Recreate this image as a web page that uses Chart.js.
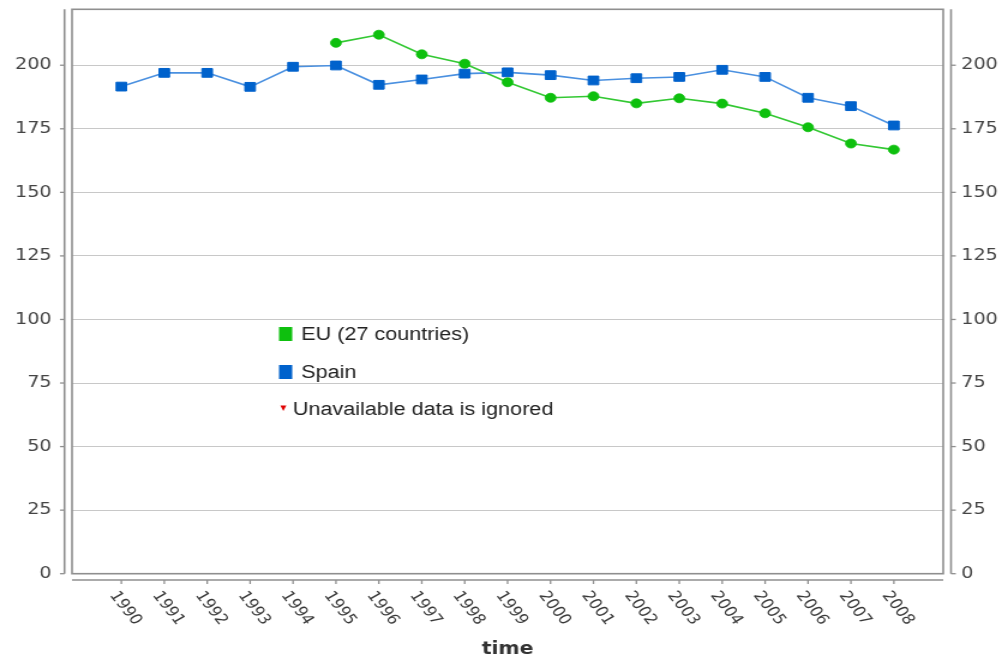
<!DOCTYPE html>
<html>
<head>
<meta charset="utf-8">
<script src="https://cdn.jsdelivr.net/npm/chart.js@4/dist/chart.umd.min.js"></script>
<style>
html,body{margin:0;padding:0;background:#fff;overflow:hidden;}
#wrap{width:835px;height:656px;transform:scaleX(1.2);transform-origin:0 0;}
canvas{display:block;}
</style>
</head>
<body>
<div id="wrap"><canvas id="c" width="835" height="656"></canvas></div>
<script>
const years = [1990,1991,1992,1993,1994,1995,1996,1997,1998,1999,2000,2001,2002,2003,2004,2005,2006,2007,2008];
const xTickLabels = years.map(String);
const euValues = [null,null,null,null,null,208.8,212.0,204.3,200.6,193.3,187.2,187.8,185.0,187.0,184.9,181.1,175.6,169.2,166.8];
const spainValues = [191.6,197.0,197.0,191.5,199.4,199.9,192.3,194.4,196.7,197.2,196.1,194.0,194.9,195.4,198.2,195.4,187.2,183.9,176.3];
const yTicks = [0,25,50,75,100,125,150,175,200];
const seriesNames = ['EU (27 countries)','Spain'];
const noteText = 'Unavailable data is ignored';
const axisTitle = 'time';

const GREEN_LINE = '#33c833', GREEN_PT = '#0ec00e';
const BLUE_LINE = '#4a90e0', BLUE_PT = '#0062cc';
const AXIS_GREY = '#8f8f8f';

const decor = {
  id: 'decor',
  afterDraw(chart) {
    const ctx = chart.ctx, ca = chart.chartArea;
    const xs = chart.scales.x, ys = chart.scales.y;
    ctx.save();
    ctx.strokeStyle = AXIS_GREY;
    ctx.lineWidth = 1.6;
    const line = (x1,y1,x2,y2) => { ctx.beginPath(); ctx.moveTo(x1,y1); ctx.lineTo(x2,y2); ctx.stroke(); };
    ctx.strokeRect(ca.left, ca.top, ca.right - ca.left, ca.bottom - ca.top);
    const lx = ca.left - 6.25;
    line(lx, ca.top, lx, ca.bottom);
    const rx = ca.right + 6.5;
    line(rx, ca.top, rx, ca.bottom);
    ctx.lineWidth = 1.3;
    yTicks.forEach(v => {
      const y = ys.getPixelForValue(v);
      line(lx - 3.8, y, lx, y);
      line(rx, y, rx + 4, y);
    });
    const by = ca.bottom + 6.3;
    ctx.lineWidth = 1.6;
    line(ca.left, by, ca.right, by);
    ctx.lineWidth = 1.3;
    years.forEach(v => { const px = xs.getPixelForValue(v); line(px, by, px, by + 4); });
    ctx.fillStyle = '#383838';
    ctx.font = '14.5px "DejaVu Sans"';
    ctx.textAlign = 'left';
    ctx.textBaseline = 'middle';
    years.forEach((v, i) => {
      const px = xs.getPixelForValue(v);
      ctx.save();
      ctx.translate(px - 7, by + 13);
      ctx.rotate(56 * Math.PI / 180);
      ctx.fillText(xTickLabels[i], 0, 0);
      ctx.restore();
    });
    const rows = [334, 372];
    ctx.font = '18px "Liberation Sans", Arial, sans-serif';
    chart.data.datasets.forEach((ds, i) => {
      ctx.fillStyle = ds.pointBackgroundColor;
      ctx.fillRect(232.5, rows[i] - 7, 11, 14);
      ctx.fillStyle = '#222';
      ctx.fillText(ds.label, 251, rows[i] + 1);
    });
    ctx.fillStyle = '#e00000';
    ctx.beginPath();
    ctx.moveTo(233.6, 405.5); ctx.lineTo(238.6, 405.5); ctx.lineTo(236.1, 411); ctx.closePath(); ctx.fill();
    ctx.fillStyle = '#222';
    ctx.fillText(noteText, 244, 410);
    ctx.restore();
  }
};

const yFit = w => s => { s.width = w; s.paddingTop = 0; s.paddingBottom = 0; };

new Chart(document.getElementById('c'), {
  type: 'line',
  data: {
    datasets: [
      {
        label: seriesNames[0],
        data: years.map((x, i) => ({x: x, y: euValues[i]})),
        borderColor: GREEN_LINE,
        backgroundColor: GREEN_PT,
        pointBackgroundColor: GREEN_PT,
        pointBorderColor: GREEN_PT,
        pointStyle: 'circle',
        pointRadius: 4.5,
        pointBorderWidth: 0.8,
        borderWidth: 1.6,
        tension: 0,
        spanGaps: false,
        yAxisID: 'y'
      },
      {
        label: seriesNames[1],
        data: years.map((x, i) => ({x: x, y: spainValues[i]})),
        borderColor: BLUE_LINE,
        backgroundColor: BLUE_PT,
        pointBackgroundColor: BLUE_PT,
        pointBorderColor: BLUE_PT,
        pointStyle: 'rect',
        pointRadius: 6.2,
        pointBorderWidth: 1,
        borderWidth: 1.6,
        tension: 0,
        yAxisID: 'y'
      }
    ]
  },
  options: {
    responsive: false,
    devicePixelRatio: 1,
    animation: false,
    layout: {padding: {top: 9.3, left: 0, right: 0, bottom: 0}},
    plugins: {legend: {display: false}, tooltip: {enabled: false}},
    scales: {
      x: {
        type: 'linear',
        min: 1988.85,
        max: 2009.15,
        afterBuildTicks: s => { s.ticks = years.map(v => ({value: v})); },
        afterFit: s => { s.height = 82.3; s.paddingLeft = 0; s.paddingRight = 0; },
        ticks: {display: false},
        grid: {display: false},
        border: {display: false},
        title: {display: true, text: axisTitle, color: '#333', font: {family: 'DejaVu Sans', size: 17, weight: 'bold'}, padding: {top: 0, bottom: -4}}
      },
      y: {
        position: 'left',
        min: 0,
        max: 222,
        afterBuildTicks: s => { s.ticks = yTicks.map(v => ({value: v})); },
        afterFit: yFit(60),
        ticks: {color: '#444', font: {family: 'DejaVu Sans', size: 16}, padding: 17},
        grid: {color: '#c8c8c8', lineWidth: 1, drawTicks: false},
        border: {display: false}
      },
      y2: {
        position: 'right',
        min: 0,
        max: 222,
        afterBuildTicks: s => { s.ticks = yTicks.map(v => ({value: v})); },
        afterFit: yFit(49),
        ticks: {color: '#444', font: {family: 'DejaVu Sans', size: 16}, padding: 15},
        grid: {drawOnChartArea: false, drawTicks: false},
        border: {display: false}
      }
    }
  },
  plugins: [decor]
});
</script>
</body>
</html>
